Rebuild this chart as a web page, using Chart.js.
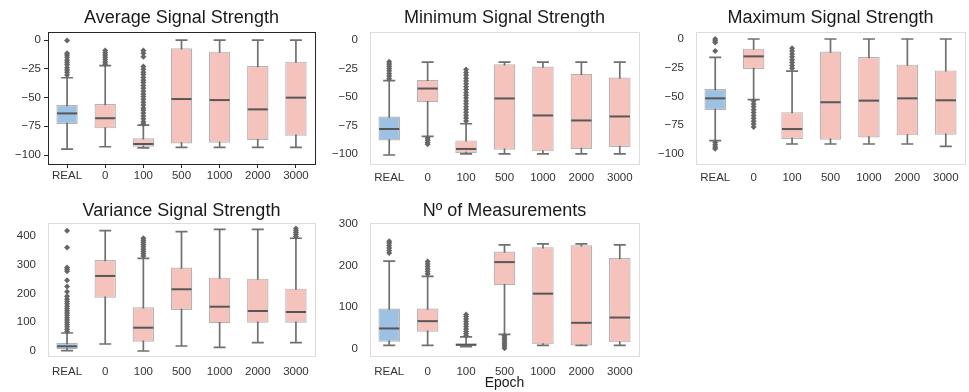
<!DOCTYPE html>
<html>
<head>
<meta charset="utf-8">
<script src="https://cdn.jsdelivr.net/npm/chart.js@4.4.1/dist/chart.umd.min.js"></script>
<style>
  html, body { margin: 0; padding: 0; background: #fff; }
  body { width: 969px; height: 392px; position: relative; overflow: hidden; }
  canvas { position: absolute; }
</style>
</head>
<body>
<canvas id="avgChart"></canvas>
<canvas id="minChart"></canvas>
<canvas id="maxChart"></canvas>
<canvas id="varChart"></canvas>
<canvas id="cntChart"></canvas>
<script>
const categories = ['REAL', '0', '100', '500', '1000', '2000', '3000'];

// tick labels
const signalTicks = [0, -25, -50, -75, -100];
const varianceTicks = [0, 100, 200, 300, 400];
const countTicks = [0, 100, 200, 300];

// Average Signal Strength
const avgLow  = [-94.8, -92.8, -93.8, -93.3, -93.3, -93.3, -93.3];
const avgQ1   = [-73, -76.8, -92.8, -89.9, -89.3, -87, -83.2];
const avgMed  = [-63.8, -68, -90.4, -51.3, -52.2, -60.3, -50.1];
const avgQ3   = [-56.5, -55.7, -85.5, -7.2, -10.1, -22.6, -18.8];
const avgHigh = [-32.8, -22.3, -74, 0, 0, 0, 0];
const avgOutliers = [
  [-0.5, -11.5, -13, -15, -17.5, -19.5, -21.5, -24, -26, -28, -30.5],
  [-9, -11, -13, -15, -17, -19, -21],
  [-9, -11.5, -14.5, -23, -25.5, -28, -30, -32.5, -35, -37, -39.5, -42, -44.5, -47, -49,
   -51.5, -54, -56.5, -59, -61, -63.5, -66, -68.5, -71, -73],
  [], [], [], []
];

// Minimum Signal Strength
const minLow  = [-100.9, -84.6, -100, -100, -100, -100, -100];
const minQ1   = [-88.1, -54.5, -99.2, -96.2, -97.7, -95.6, -93.9];
const minMed  = [-78.1, -42.6, -95.6, -51.3, -66.2, -70.6, -67.1];
const minQ3   = [-67.1, -35, -88.1, -21.3, -23.3, -29.7, -33];
const minHigh = [-35.6, -19.5, -73.5, -19.5, -19.5, -19.5, -19.5];
const minOutliers = [
  [-19, -21, -23, -25, -27, -29.5, -31.5, -34],
  [-86, -88, -90, -91.5],
  [-26, -28.5, -31, -33.5, -36, -38.5, -41, -43.5, -46, -48.5, -51, -53.5, -56, -58.5,
   -61, -63.5, -66, -68.5, -71],
  [], [], [], []
];

// Maximum Signal Strength
const maxLow  = [-88.4, -52.7, -91.3, -91.3, -91.3, -91.3, -93.4];
const maxQ1   = [-61.7, -26.1, -87, -87.6, -85.6, -83.8, -83.2];
const maxMed  = [-51.6, -15.1, -78.3, -55, -53.6, -51.6, -53.3];
const maxQ3   = [-43.5, -8.4, -63.6, -10.8, -15.6, -22.3, -27.3];
const maxHigh = [-16, 0, -28, 0, 0, 0, 0];
const maxOutliers = [
  [0, -1.5, -3, -10.5, -90, -92, -94, -95.5],
  [-54, -56.5, -59, -61.5, -64, -66.5, -69, -71.5, -74, -76.5],
  [-8, -10.5, -13, -15.5, -18, -20.5, -23, -25.5],
  [], [], [], []
];

// Variance Signal Strength
const varLow  = [1, 24.3, 0, 17.4, 12.8, 29, 29];
const varQ1   = [7, 185.4, 32.5, 142.6, 96.3, 98.6, 98.6];
const varMed  = [16.3, 260.9, 81, 214.6, 154, 139, 135.6];
const varQ3   = [27.8, 316.5, 152, 290, 255, 251.5, 216.7];
const varHigh = [62.6, 418.4, 322, 415, 423, 423, 392];
const varOutliers = [
  [418, 360, 290, 284, 277, 246, 224, 206, 190, 180, 172, 164, 156, 148, 140, 132,
   124, 116, 108, 100, 92, 84, 76, 68],
  [],
  [330, 338, 346, 354, 362, 370, 378, 385, 392],
  [], [], [],
  [398, 405, 412, 419, 426]
];

// Nº of Measurements
const cntLow  = [8.7, 8.7, 6, 35, 8.7, 8.7, 8.7];
const cntQ1   = [17.5, 41.4, 8, 152.7, 11.2, 8.7, 16];
const cntMed  = [49.3, 66.8, 10, 208.3, 132.7, 62.8, 75.5];
const cntQ3   = [97, 97, 14, 233.8, 244, 248.6, 217.9];
const cntHigh = [210.7, 174, 29, 249.7, 252, 252, 249.7];
const cntOutliers = [
  [230, 236, 242, 248, 254, 258],
  [180, 186, 192, 198, 204, 210],
  [32, 37, 42, 48, 54, 60, 66, 72, 78, 83],
  [2, 7, 12, 17, 22, 27, 32],
  [], [], []
];

const FONT = 'Arial, "Liberation Sans", sans-serif';
const BLUE = '#9cc1e3';
const PINK = '#f5c2bc';
const EDGE = 'rgba(105,105,105,0.5)';
const WHISKER = '#707070';
const MEDIAN = '#575757';
const Y_W = 48;

function fmt(v) {
  return v < 0 ? '\u2212' + Math.abs(v) : String(v);
}

function boxParts(s) {
  return {
    id: 'boxParts',
    beforeDatasetsDraw(chart) {
      const { ctx } = chart;
      const x = chart.scales.x, y = chart.scales.y;
      const boxes = chart.getDatasetMeta(0).data;
      ctx.save();
      ctx.strokeStyle = WHISKER;
      ctx.lineWidth = 1.7;
      s.low.forEach((lo, i) => {
        const cx = x.getPixelForValue(i);
        const half = boxes[i].width * 0.28;
        const yl = y.getPixelForValue(lo);
        const yh = y.getPixelForValue(s.high[i]);
        ctx.beginPath();
        ctx.moveTo(cx, yl); ctx.lineTo(cx, yh);
        ctx.moveTo(cx - half, yl); ctx.lineTo(cx + half, yl);
        ctx.moveTo(cx - half, yh); ctx.lineTo(cx + half, yh);
        ctx.stroke();
      });
      ctx.restore();
    },
    afterDatasetsDraw(chart) {
      const { ctx, chartArea: a } = chart;
      const x = chart.scales.x, y = chart.scales.y;
      const boxes = chart.getDatasetMeta(0).data;
      ctx.save();
      ctx.strokeStyle = MEDIAN;
      ctx.lineWidth = 2;
      s.med.forEach((m, i) => {
        const cx = x.getPixelForValue(i);
        const half = boxes[i].width / 2 - 0.6;
        const ym = y.getPixelForValue(m);
        ctx.beginPath();
        ctx.moveTo(cx - half, ym); ctx.lineTo(cx + half, ym);
        ctx.stroke();
      });
      // frame around the plot area
      ctx.strokeStyle = s.frame;
      ctx.lineWidth = 1;
      const l = Math.round(a.left), t = Math.round(a.top);
      ctx.strokeRect(l + 0.5, t + 0.5, Math.round(a.right) - l, Math.round(a.bottom) - t);
      ctx.restore();
    }
  };
}

function makeBoxChart(id, s) {
  const el = document.getElementById(id);
  const left = s.plot[0] - Y_W;
  const width = s.plot[2] - left + 1;
  el.style.left = left + 'px';
  el.style.top = s.top + 'px';
  el.width = width;
  el.height = s.height;

  const outlierPts = [];
  s.outliers.forEach((list, i) => list.forEach(v => outlierPts.push({ x: categories[i], y: v })));

  const tickColor = '#333333';
  return new Chart(el.getContext('2d'), {
    type: 'bar',
    data: {
      labels: categories,
      datasets: [{
        data: s.q1.map((v, i) => [v, s.q3[i]]),
        backgroundColor: categories.map((c, i) => i === 0 ? BLUE : PINK),
        borderColor: EDGE,
        borderWidth: 1.2,
        borderSkipped: false,
        barPercentage: 0.56,
        categoryPercentage: 1.0
      }, {
        type: 'line',
        data: outlierPts,
        showLine: false,
        pointStyle: 'rectRot',
        pointRadius: 3,
        pointBackgroundColor: '#666666',
        pointBorderWidth: 0
      }]
    },
    options: {
      responsive: false,
      animation: false,
      layout: { padding: { left: 0, right: 1, top: 0, bottom: 0 } },
      plugins: {
        legend: { display: false },
        tooltip: { enabled: false },
        title: {
          display: true,
          fullSize: false,
          text: s.title,
          color: '#1a1a1a',
          font: { family: FONT, size: 18, weight: 'normal' },
          padding: { top: s.titlePad[0], bottom: s.titlePad[1] }
        }
      },
      scales: {
        x: {
          offset: true,
          grid: { display: s.tickMarks, drawOnChartArea: false, drawTicks: true,
                  tickLength: 4, color: s.frame, offset: false },
          border: { display: false },
          ticks: { color: tickColor, font: { family: FONT, size: 11.5 }, padding: s.xPad,
                   maxRotation: 0, autoSkip: false },
          title: {
            display: !!s.xTitle,
            text: s.xTitle || '',
            color: '#1a1a1a',
            font: { family: FONT, size: 14 },
            padding: { top: 0, bottom: 0 }
          },
          afterFit(scale) { scale.height = s.height - (s.plot[3] - s.top); }
        },
        y: {
          min: s.range[0],
          max: s.range[1],
          grid: { display: s.tickMarks, drawOnChartArea: false, drawTicks: true,
                  tickLength: 4, color: s.frame },
          border: { display: false },
          afterBuildTicks(scale) { scale.ticks = s.ticks.map(v => ({ value: v })); },
          ticks: { color: tickColor, font: { family: FONT, size: 11.5 },
                   padding: s.tickMarks ? 3 : 8, callback: v => fmt(v) },
          afterFit(scale) { scale.width = Y_W; }
        }
      }
    },
    plugins: [boxParts(s)]
  });
}

const row1 = { top: 0, height: 186, titlePad: [7, 3.4] };
const row2 = { top: 190, height: 202, titlePad: [10.5, 0.9] };

makeBoxChart('avgChart', Object.assign({}, row1, {
  title: 'Average Signal Strength', plot: [48, 32, 318, 164], range: [-107.8, 7],
  ticks: signalTicks, low: avgLow, q1: avgQ1, med: avgMed, q3: avgQ3, high: avgHigh,
  outliers: avgOutliers, frame: '#262626', tickMarks: true, xPad: 1
}));
makeBoxChart('minChart', Object.assign({}, row1, {
  title: 'Minimum Signal Strength', plot: [370, 32, 642, 164], range: [-108.8, 7],
  ticks: signalTicks, low: minLow, q1: minQ1, med: minMed, q3: minQ3, high: minHigh,
  outliers: minOutliers, frame: '#dcdcdc', tickMarks: false, xPad: 3
}));
makeBoxChart('maxChart', Object.assign({}, row1, {
  title: 'Maximum Signal Strength', plot: [696, 32, 968, 164], range: [-108.7, 6.1],
  ticks: signalTicks, low: maxLow, q1: maxQ1, med: maxMed, q3: maxQ3, high: maxHigh,
  outliers: maxOutliers, frame: '#dcdcdc', tickMarks: false, xPad: 3
}));
makeBoxChart('varChart', Object.assign({}, row2, {
  title: 'Variance Signal Strength', plot: [48, 223, 318, 356], range: [-17.4, 445],
  ticks: varianceTicks, low: varLow, q1: varQ1, med: varMed, q3: varQ3, high: varHigh,
  outliers: varOutliers, frame: '#dcdcdc', tickMarks: false, xPad: 4.5
}));
makeBoxChart('cntChart', Object.assign({}, row2, {
  title: 'N\u00ba of Measurements', plot: [370, 223, 642, 356], range: [-16.7, 302],
  ticks: countTicks, low: cntLow, q1: cntQ1, med: cntMed, q3: cntQ3, high: cntHigh,
  outliers: cntOutliers, frame: '#dcdcdc', tickMarks: false, xPad: 4.5, xTitle: 'Epoch'
}));
</script>
</body>
</html>
